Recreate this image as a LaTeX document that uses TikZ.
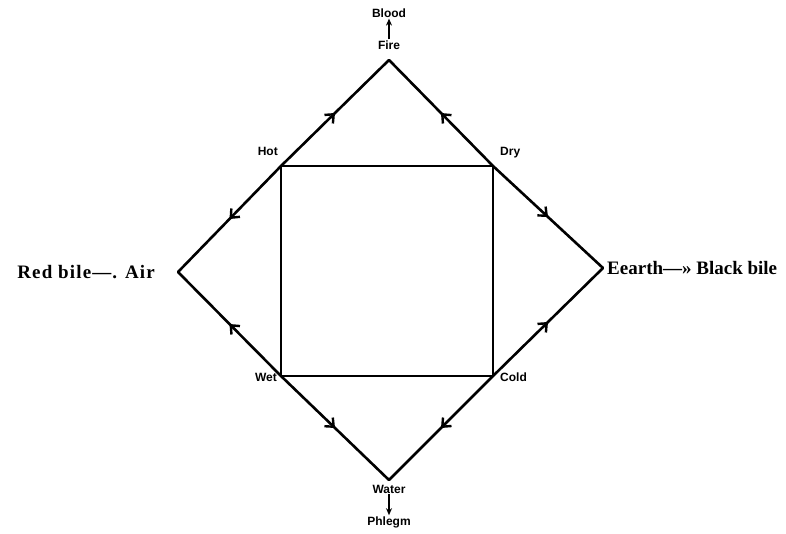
\documentclass[tikz,border=0pt]{standalone}
\usepackage{fontspec}
\setmainfont{Liberation Serif}
\newfontfamily\handfont{Liberation Sans}
\usetikzlibrary{arrows.meta,positioning,decorations.markings}

\begin{document}
\begin{tikzpicture}[
    x=1pt, y=-1pt,
    edge/.style={line width=2.6pt, line cap=round, line join=round},
    midarrow/.style={postaction={decorate}, decoration={markings,
        mark=at position 0.5 with {\arrow{Straight Barb[length=7pt, width=12pt, line width=2.4pt]}}}},
    small/.style={font=\handfont\fontsize{12}{13}\selectfont\bfseries, inner sep=1pt},
    humour/.style={font=\fontsize{19}{21}\selectfont\bfseries, inner sep=1pt},
    arrow/.style={-{Stealth[length=7pt, width=6pt]}, line width=2pt}
]
\useasboundingbox (0,0) rectangle (786,533);

% diamond and square corners
\coordinate (fire) at (389,60);
\coordinate (earth) at (603,268);
\coordinate (water) at (389,480);
\coordinate (air) at (178,272);
\coordinate (hot) at (281,166);
\coordinate (dry) at (493,166);
\coordinate (wet) at (281,376);
\coordinate (cold) at (493,376);

% labels
\node[small] (firelbl) at (389,45) {Fire};
\node[small] (blood) at (389,13) {Blood};
\node[small] (waterlbl) at (389,489) {Water};
\node[small] (phlegm) at (389,522) {Phlegm};
\node[small, anchor=south east] (hotlbl) at (279,157) {Hot};
\node[small, anchor=south west] (drylbl) at (499,159) {Dry};
\node[small, anchor=east] (wetlbl) at (278,377) {Wet};
\node[small, anchor=west] (coldlbl) at (499,377) {Cold};
\node[humour, anchor=east] (airlbl) at (156,272) {\addfontfeature{LetterSpace=6}Red bile---. Air};
\node[humour, anchor=west] (earthlbl) at (606,268) {Eearth---» Black bile};

% square
\draw[edge] (hot) -- (dry) -- (cold) -- (wet) -- cycle;

% diamond, arrows run from the square to the elements
\draw[edge, midarrow] (hot) -- (fire);
\draw[edge, midarrow] (dry) -- (fire);
\draw[edge, midarrow] (dry) -- (earth);
\draw[edge, midarrow] (cold) -- (earth);
\draw[edge, midarrow] (cold) -- (water);
\draw[edge, midarrow] (wet) -- (water);
\draw[edge, midarrow] (wet) -- (air);
\draw[edge, midarrow] (hot) -- (air);

\draw[arrow] (firelbl) -- (blood);
\draw[arrow] (waterlbl) -- (phlegm);
\end{tikzpicture}
\end{document}
